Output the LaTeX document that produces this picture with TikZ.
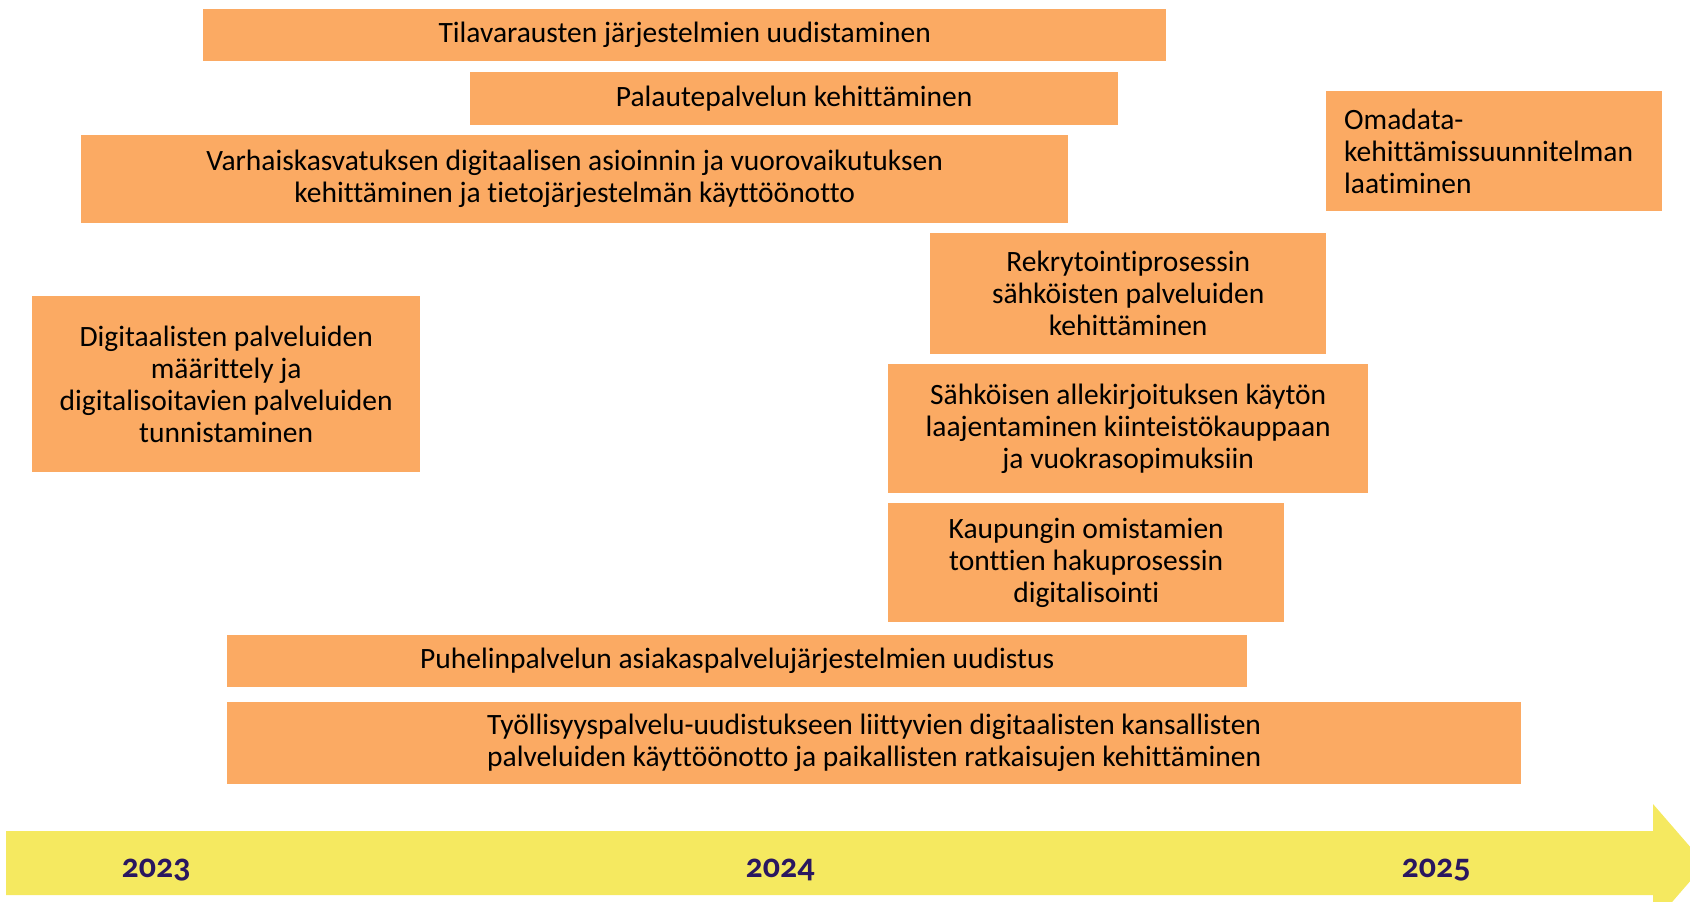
\documentclass[tikz,border=0pt]{standalone}
\usepackage{fontspec}
\setmainfont[Ligatures=NoCommon]{Carlito}
\newfontfamily\yearfont[Numbers=OldStyle]{Carlito}
\definecolor{boxorange}{HTML}{FBAA63}
\definecolor{axisyellow}{HTML}{F5E960}
\definecolor{yearblue}{HTML}{2A1760}
\tikzset{
  bar/.style={fill=boxorange, draw=none, anchor=north west, inner sep=0pt, align=center,
    font=\fontsize{29.5}{32}\selectfont, text=black},
  yearlbl/.style={anchor=base, text=yearblue, font=\yearfont\bfseries\fontsize{34}{40}\selectfont, inner sep=0pt}
}
\newcommand{\barnode}[6]{% name, x1, y1, x2, y2, text
  \node[bar, minimum width=#4pt-#2pt, minimum height=#5pt-#3pt] (#1) at (#2,#3) {#6};}
\begin{document}
\begin{tikzpicture}[x=1pt,y=-1pt]
\useasboundingbox (0,0) rectangle (1690,902);
\clip (0,0) rectangle (1690,902);
% timeline arrow
\fill[axisyellow] (6,831) -- (1653,831) -- (1653,804) -- (1705,864) -- (1653,924) -- (1653,895) -- (6,895) -- cycle;
\node[yearlbl] (y2023) at (156,877) {2023};
\node[yearlbl] (y2024) at (780,877) {2024};
\node[yearlbl] (y2025) at (1436,877) {2025};
% bars
\barnode{tila}{203}{9}{1166}{61}{Tilavarausten järjestelmien uudistaminen}
\barnode{pala}{470}{72}{1118}{125}{Palautepalvelun kehittäminen}
\barnode{varh}{81}{135}{1068}{223}{Varhaiskasvatuksen digitaalisen asioinnin ja vuorovaikutuksen\\kehittäminen ja tietojärjestelmän käyttöönotto}
\node[bar, align=left, minimum width=336pt, minimum height=120pt, text width=300pt] (oma) at (1326,91) {Omadata-\\kehittämissuunnitelman\\laatiminen};
\barnode{rekr}{930}{233}{1326}{354}{Rekrytointiprosessin\\sähköisten palveluiden\\kehittäminen}
\barnode{digi}{32}{296}{420}{472}{Digitaalisten palveluiden\\määrittely ja\\digitalisoitavien palveluiden\\tunnistaminen}
\barnode{sahk}{888}{364}{1368}{493}{Sähköisen allekirjoituksen käytön\\laajentaminen kiinteistökauppaan\\ja vuokrasopimuksiin}
\barnode{kaup}{888}{503}{1284}{622}{Kaupungin omistamien\\tonttien hakuprosessin\\digitalisointi}
\barnode{puhe}{227}{635}{1247}{687}{Puhelinpalvelun asiakaspalvelujärjestelmien uudistus}
\barnode{tyol}{227}{702}{1521}{784}{Työllisyyspalvelu-uudistukseen liittyvien digitaalisten kansallisten\\palveluiden käyttöönotto ja paikallisten ratkaisujen kehittäminen}
\end{tikzpicture}
\end{document}
